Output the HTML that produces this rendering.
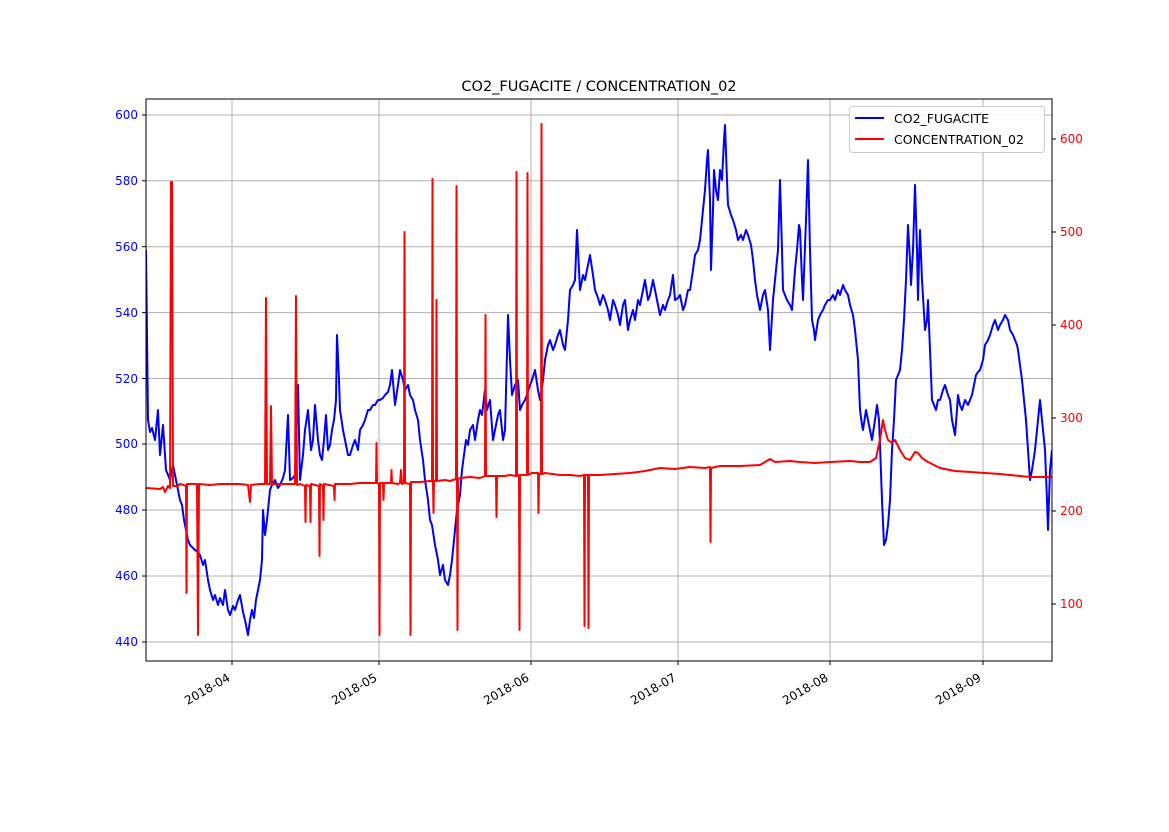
<!DOCTYPE html>
<html><head><meta charset="utf-8"><style>
body{margin:0;background:#fff;}
svg text{font-family:"DejaVu Sans","Liberation Sans",sans-serif;}
</style></head><body>
<svg width="1169" height="827" viewBox="0 0 1169 827" xmlns="http://www.w3.org/2000/svg">
<rect width="1169" height="827" fill="#fff"/>
<g stroke="#b0b0b0" stroke-width="1">
<line x1="232" y1="99" x2="232" y2="661"/><line x1="379" y1="99" x2="379" y2="661"/><line x1="531" y1="99" x2="531" y2="661"/><line x1="678" y1="99" x2="678" y2="661"/><line x1="830" y1="99" x2="830" y2="661"/><line x1="983" y1="99" x2="983" y2="661"/>
<line x1="146" y1="642" x2="1052" y2="642"/><line x1="146" y1="576" x2="1052" y2="576"/><line x1="146" y1="510" x2="1052" y2="510"/><line x1="146" y1="444" x2="1052" y2="444"/><line x1="146" y1="378.5" x2="1052" y2="378.5"/><line x1="146" y1="312.6" x2="1052" y2="312.6"/><line x1="146" y1="246.7" x2="1052" y2="246.7"/><line x1="146" y1="180.8" x2="1052" y2="180.8"/><line x1="146" y1="115" x2="1052" y2="115"/>
</g>
<svg x="146" y="99" width="906" height="562" viewBox="146 99 906 562" overflow="hidden">
<polyline fill="none" stroke="#0000ff" stroke-width="2" stroke-linejoin="round" points="146,250 148,420 150,432 152,428 155,440 158,410 160,455 163,425 166,470 170,480 173,465 175,475 178,490 180,500 182,505 184,520 186,530 188,540 190,545 195,550 198,552 200,555 203,565 205,560 208,580 210,590 213,600 215,595 218,605 220,598 223,605 225,590 228,610 230,615 233,606 235,610 238,600 240,595 243,612 245,620 248,635 250,620 252,610 254,618 256,600 258,590 260,580 262,560 263,510 265,535 267,520 270,490 272,485 275,480 278,488 280,485 283,478 285,470 288,415 290,480 293,478 295,475 298,385 300,480 303,455 305,430 308,410 311,450 313,440 315,405 318,440 320,455 322,460 324,440 326,415 328,450 330,445 332,430 334,420 336,400 337,335 339,380 340,410 343,430 345,440 348,455 350,455 353,445 355,440 358,450 360,430 363,425 365,420 368,410 370,410 373,405 375,405 378,400 380,400 383,398 385,395 388,392 390,385 392,370 395,405 398,385 400,370 403,380 405,390 408,385 410,395 413,400 415,410 418,420 420,440 423,460 425,480 428,500 430,520 432,525 435,545 438,560 440,575 443,565 445,580 448,585 450,575 452,560 455,530 457,510 460,495 462,470 464,455 466,440 468,445 470,430 473,425 475,440 478,420 480,410 482,415 485,390 487,410 490,400 493,440 495,430 498,415 500,410 503,440 505,430 508,315 510,360 512,395 515,385 518,380 520,410 522,405 525,400 527,395 530,385 532,380 535,370 538,390 540,400 543,380 545,360 548,345 550,340 553,350 555,345 558,335 560,330 563,345 565,350 568,320 570,290 573,285 575,280 577,230 580,290 583,275 585,280 588,265 590,255 593,275 595,290 598,298 600,305 603,295 605,300 608,310 610,320 613,300 615,305 618,315 620,325 623,305 625,300 628,330 630,320 633,310 635,320 638,300 640,305 643,290 645,280 648,300 650,295 653,280 655,290 658,305 660,315 663,305 665,310 668,300 670,295 673,275 675,300 678,298 680,295 683,310 685,305 688,290 690,290 693,270 695,255 698,250 700,240 703,210 705,190 707,160 708,150 710,200 711,270 713,210 714,170 716,190 718,200 720,170 722,180 724,140 725,125 727,180 728,205 731,215 733,220 736,230 738,240 741,235 743,240 746,230 748,235 751,245 753,260 755,280 757,295 759,305 760,310 763,295 765,290 768,310 770,350 773,300 775,280 778,250 780,180 782,250 783,290 785,295 787,300 790,305 792,310 795,270 797,250 799,225 800,230 802,280 803,300 806,220 808,160 810,250 812,320 814,330 815,340 818,320 820,315 823,310 825,305 828,300 830,300 833,295 835,300 838,290 840,295 843,285 845,290 848,295 850,305 853,315 855,330 857,350 858,360 860,410 862,425 863,430 866,410 868,420 870,430 872,440 875,420 877,405 879,420 880,445 882,500 884,545 886,540 888,525 890,500 892,450 894,420 896,380 898,375 900,370 902,350 904,320 906,280 908,225 910,260 911,285 913,250 915,185 917,250 918,300 919,260 920,230 922,280 925,330 927,320 928,300 930,350 932,400 934,405 936,410 938,400 940,400 943,390 945,385 948,395 950,400 952,420 955,435 957,410 958,395 960,405 962,410 965,400 968,405 970,400 972,395 974,385 976,375 978,372 980,370 983,360 985,345 988,340 990,335 993,325 995,320 998,330 1000,325 1003,320 1005,315 1008,320 1010,330 1013,335 1015,340 1017,345 1018,350 1020,365 1022,380 1024,400 1026,420 1028,450 1030,480 1032,470 1035,450 1037,430 1040,400 1042,420 1045,450 1047,500 1048,530 1050,470 1052,450"/>
<polyline fill="none" stroke="#ff0000" stroke-width="2" stroke-linejoin="round" points="146,488 160,489 163,487 165,492 168,486 170,488 171,182 172,182 173,486 178,486 180,484 184,485 186,486 186.5,593 187,484 195,484 197,484 198,635 199,484 210,485 220,484 240,484 248,485 250,502 251,485 260,484 265,484 266,298 267,484 270,484 271,406 272,484 290,484 295,484 296,296 297,485 300,484 305,486 305.5,522 306,485 310,486 310.5,522 311,484 315,485 319,486 319.5,556 320,484 323,486 323.5,520 324,484 334,486 334.5,500 335,484 350,484 360,483 370,483 376,483 376.5,443 377,483 379,484 379.5,635 380,483 383,483 383.5,500 384,483 390,483 391,483 391.5,470 392,483 398,484 400,483 401,470 402,484 404,483 404.5,232 405,483 410,484 410.5,635 411,482 420,482 430,481 432,481 432.5,179 433,481 433.5,513 434,481 436,481 436.5,300 437,481 445,480 450,481 456,479 456.5,186 457,479 457.5,630 458,479 460,478 470,477 480,478 485,476 485.5,315 486,476 490,476 496,476 496.5,517 497,476 505,476 510,475 516,476 516.5,172 517,476 519,475 519.5,630 520,475 527,475 527.5,173 528,475 532,473 538,473 538.5,513 539,474 541,474 541.5,124 542,474 545,473 560,475 570,475 580,476 584,475 584.5,626 585,475 588,475 588.5,628 589,475 600,475 615,474 630,473 645,471 660,468 675,469 690,467 705,468 710,467 710.5,542 711,468 720,466 740,466 760,465 770,459 775,462 790,461 800,462 815,463 830,462 850,461 860,462 870,462 876,458 880,440 883,420 885,430 888,440 892,443 895,440 900,450 905,458 910,460 915,452 918,453 922,458 928,462 940,468 955,471 970,472 985,473 1000,474 1010,475 1020,476 1030,477 1040,477 1052,477"/>
</svg>
<rect x="146" y="99" width="906" height="562" fill="none" stroke="#000" stroke-width="1"/>
<g stroke="#000" stroke-width="1">
<line x1="146" y1="642" x2="142" y2="642"/><line x1="146" y1="576" x2="142" y2="576"/><line x1="146" y1="510" x2="142" y2="510"/><line x1="146" y1="444" x2="142" y2="444"/><line x1="146" y1="378.5" x2="142" y2="378.5"/><line x1="146" y1="312.6" x2="142" y2="312.6"/><line x1="146" y1="246.7" x2="142" y2="246.7"/><line x1="146" y1="180.8" x2="142" y2="180.8"/><line x1="146" y1="115" x2="142" y2="115"/>
<line x1="1052" y1="604" x2="1056" y2="604"/><line x1="1052" y1="511" x2="1056" y2="511"/><line x1="1052" y1="418" x2="1056" y2="418"/><line x1="1052" y1="325" x2="1056" y2="325"/><line x1="1052" y1="232" x2="1056" y2="232"/><line x1="1052" y1="139" x2="1056" y2="139"/>
<line x1="232" y1="661" x2="232" y2="665"/><line x1="379" y1="661" x2="379" y2="665"/><line x1="531" y1="661" x2="531" y2="665"/><line x1="678" y1="661" x2="678" y2="665"/><line x1="830" y1="661" x2="830" y2="665"/><line x1="983" y1="661" x2="983" y2="665"/>
</g>
<g font-size="12" fill="#0000ff" text-anchor="end">
<text x="138" y="646">440</text><text x="138" y="580">460</text><text x="138" y="514">480</text><text x="138" y="448">500</text><text x="138" y="383">520</text><text x="138" y="317">540</text><text x="138" y="251">560</text><text x="138" y="185">580</text><text x="138" y="119">600</text>
</g>
<g font-size="12" fill="#ff0000">
<text x="1060" y="608">100</text><text x="1060" y="515">200</text><text x="1060" y="422">300</text><text x="1060" y="329">400</text><text x="1060" y="236">500</text><text x="1060" y="143">600</text>
</g>
<g font-size="12" fill="#000" text-anchor="end">
<text transform="translate(231,680) rotate(-30)">2018-04</text>
<text transform="translate(378,680) rotate(-30)">2018-05</text>
<text transform="translate(530,680) rotate(-30)">2018-06</text>
<text transform="translate(677,680) rotate(-30)">2018-07</text>
<text transform="translate(829,680) rotate(-30)">2018-08</text>
<text transform="translate(982,680) rotate(-30)">2018-09</text>
</g>
<text x="599" y="91" font-size="14.5" text-anchor="middle" fill="#000">CO2_FUGACITE / CONCENTRATION_02</text>
<rect x="849.5" y="106.5" width="195" height="46" rx="3" fill="#fff" fill-opacity="0.85" stroke="#ccc"/>
<line x1="855" y1="118" x2="884" y2="118" stroke="#0000ff" stroke-width="2"/>
<line x1="855" y1="139" x2="884" y2="139" stroke="#ff0000" stroke-width="2"/>
<text x="894" y="123" font-size="12.5" fill="#000">CO2_FUGACITE</text>
<text x="894" y="144" font-size="12.5" fill="#000">CONCENTRATION_02</text>
</svg>
</body></html>
